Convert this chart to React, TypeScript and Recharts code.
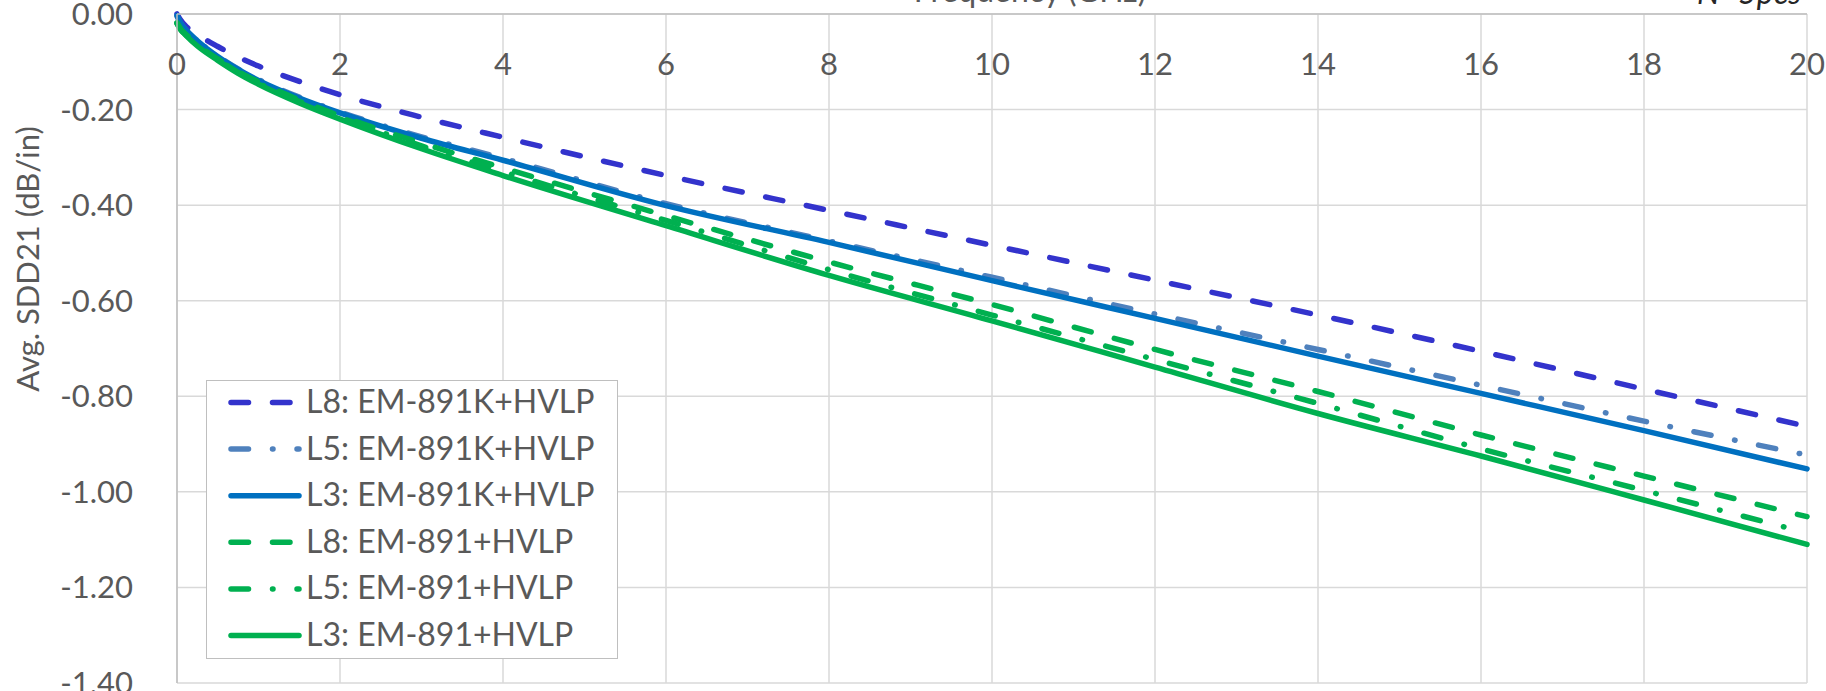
import React from "react";
import {
	CartesianGrid,
	Legend,
	Line,
	LineChart,
	XAxis,
	YAxis,
} from "recharts";

const FONT = "Lato, 'Noto Sans', sans-serif";
const TEXT = "#595959";

// frequency points (GHz)
const freqGHz = [0, 0.05, 0.1, 0.25, 0.5, 0.75, 1, 1.5, 2, 3, 4, 6, 8, 10, 12, 14, 16, 18, 20];

// Avg. SDD21 (dB/in)
const l8K = [0.0, -0.014, -0.024, -0.043, -0.068, -0.09, -0.109, -0.141, -0.169, -0.216, -0.258, -0.338, -0.411, -0.484, -0.557, -0.63, -0.706, -0.785, -0.863];
const l5K = [-0.005, -0.021, -0.032, -0.056, -0.088, -0.115, -0.137, -0.174, -0.205, -0.257, -0.302, -0.397, -0.475, -0.551, -0.628, -0.702, -0.777, -0.852, -0.923];
const l3K = [-0.003, -0.02, -0.031, -0.056, -0.089, -0.116, -0.139, -0.176, -0.207, -0.26, -0.306, -0.401, -0.478, -0.558, -0.637, -0.716, -0.794, -0.872, -0.952];
const l8G = [-0.018, -0.032, -0.041, -0.064, -0.094, -0.12, -0.142, -0.18, -0.213, -0.27, -0.322, -0.422, -0.519, -0.608, -0.702, -0.79, -0.881, -0.967, -1.052];
const l5G = [-0.019, -0.033, -0.042, -0.065, -0.095, -0.122, -0.145, -0.183, -0.216, -0.276, -0.33, -0.432, -0.535, -0.63, -0.723, -0.815, -0.91, -0.997, -1.086];
const l3G = [-0.02, -0.034, -0.043, -0.067, -0.097, -0.124, -0.147, -0.186, -0.22, -0.282, -0.338, -0.443, -0.547, -0.642, -0.739, -0.836, -0.925, -1.017, -1.11];

const xTicks = [0, 2, 4, 6, 8, 10, 12, 14, 16, 18, 20];
const yTicks = [0, -0.2, -0.4, -0.6, -0.8, -1.0, -1.2, -1.4];

const LINE_W = 5.5;
const DASH = "17.5 24";
const DASH_DOT = "17.5 24 0.5 24";

const series = [
	{ key: "l8K", name: "L8: EM-891K+HVLP", values: l8K, color: "#3333CC", dash: DASH },
	{ key: "l5K", name: "L5: EM-891K+HVLP", values: l5K, color: "#4F81BD", dash: DASH_DOT },
	{ key: "l3K", name: "L3: EM-891K+HVLP", values: l3K, color: "#0070C0", dash: undefined },
	{ key: "l8G", name: "L8: EM-891+HVLP", values: l8G, color: "#00B050", dash: DASH },
	{ key: "l5G", name: "L5: EM-891+HVLP", values: l5G, color: "#00B050", dash: DASH_DOT },
	{ key: "l3G", name: "L3: EM-891+HVLP", values: l3G, color: "#00B050", dash: undefined },
];

const data = freqGHz.map((f, i) => {
	const row: Record<string, number> = { f };
	series.forEach((s) => (row[s.key] = s.values[i]));
	return row;
});

// Excel draws the frequency labels under the top axis line
function XTick({ x, payload }: any) {
	return (
		<text x={x} y={75} textAnchor="middle" fill={TEXT} fontSize={31} fontFamily={FONT}>
			{payload.value}
		</text>
	);
}

function TopTitles() {
	return (
		<g>
			<text x={1030} y={2} textAnchor="middle" fill={TEXT} fontSize={32} fontFamily={FONT}>
				Frequency (GHz)
			</text>
			<text x={1801} y={4} textAnchor="end" fill="#262626" fontSize={32} fontStyle="italic" fontFamily={FONT}>
				N=5pcs
			</text>
		</g>
	);
}

function YTitle() {
	return (
		<text
			x={27}
			y={259}
			transform="rotate(-90, 27, 259)"
			textAnchor="middle"
			dominantBaseline="central"
			fill={TEXT}
			fontSize={31}
			fontFamily={FONT}
		>
			Avg. SDD21 (dB/in)
		</text>
	);
}

function LegendBox() {
	const rowH = 46.6;
	return (
		<div
			style={{
				width: 412,
				height: 279,
				boxSizing: "border-box",
				border: "1.5px solid #bfbfbf",
				background: "#fff",
			}}
		>
			<svg width={409} height={276} style={{ display: "block" }}>
				{series.map((s, i) => {
					const cy = 21.5 + i * rowH;
					return (
						<g key={s.key}>
							<line
								x1={24}
								x2={92}
								y1={cy}
								y2={cy}
								stroke={s.color}
								strokeWidth={LINE_W}
								strokeLinecap="round"
								strokeDasharray={s.dash}
							/>
							<text x={99} y={cy + 10.5} fill={TEXT} fontSize={32} fontFamily={FONT}>
								{s.name}
							</text>
						</g>
					);
				})}
			</svg>
		</div>
	);
}

export default function App() {
	return (
		<div style={{ position: "absolute", left: 0, top: 0, width: 1826, height: 691, background: "#fff" }}>
			<LineChart
				width={1826}
				height={691}
				data={data}
				margin={{ top: 0, right: 19, bottom: 8, left: 0 }}
			>
				<CartesianGrid stroke="#d9d9d9" strokeWidth={1.5} />
				<XAxis
					dataKey="f"
					type="number"
					orientation="top"
					domain={[0, 20]}
					ticks={xTicks}
					interval={0}
					height={14}
					tickLine={false}
					tickSize={0}
					tickMargin={0}
					axisLine={{ stroke: "#bfbfbf", strokeWidth: 1.5 }}
					tick={<XTick />}
					label={<TopTitles />}
				/>
				<YAxis
					type="number"
					domain={[-1.4, 0]}
					ticks={yTicks}
					interval={0}
					width={177}
					tickLine={false}
					tickSize={0}
					tickMargin={44}
					axisLine={{ stroke: "#bfbfbf", strokeWidth: 1.5 }}
					tickFormatter={(v: number) => v.toFixed(2)}
					tick={{ fill: TEXT, fontSize: 31, fontFamily: FONT }}
					label={<YTitle />}
				/>
				<Legend
					layout="horizontal"
					verticalAlign="middle"
					align="center"
					content={() => <LegendBox />}
					wrapperStyle={{ left: 206, top: 380, width: 412, height: 279 }}
				/>
				{series.map((s) => (
					<Line
						key={s.key}
						type="monotone"
						dataKey={s.key}
						name={s.name}
						stroke={s.color}
						strokeWidth={LINE_W}
						strokeLinecap="round"
						strokeDasharray={s.dash}
						dot={false}
						activeDot={false}
						isAnimationActive={false}
					/>
				))}
			</LineChart>
		</div>
	);
}
